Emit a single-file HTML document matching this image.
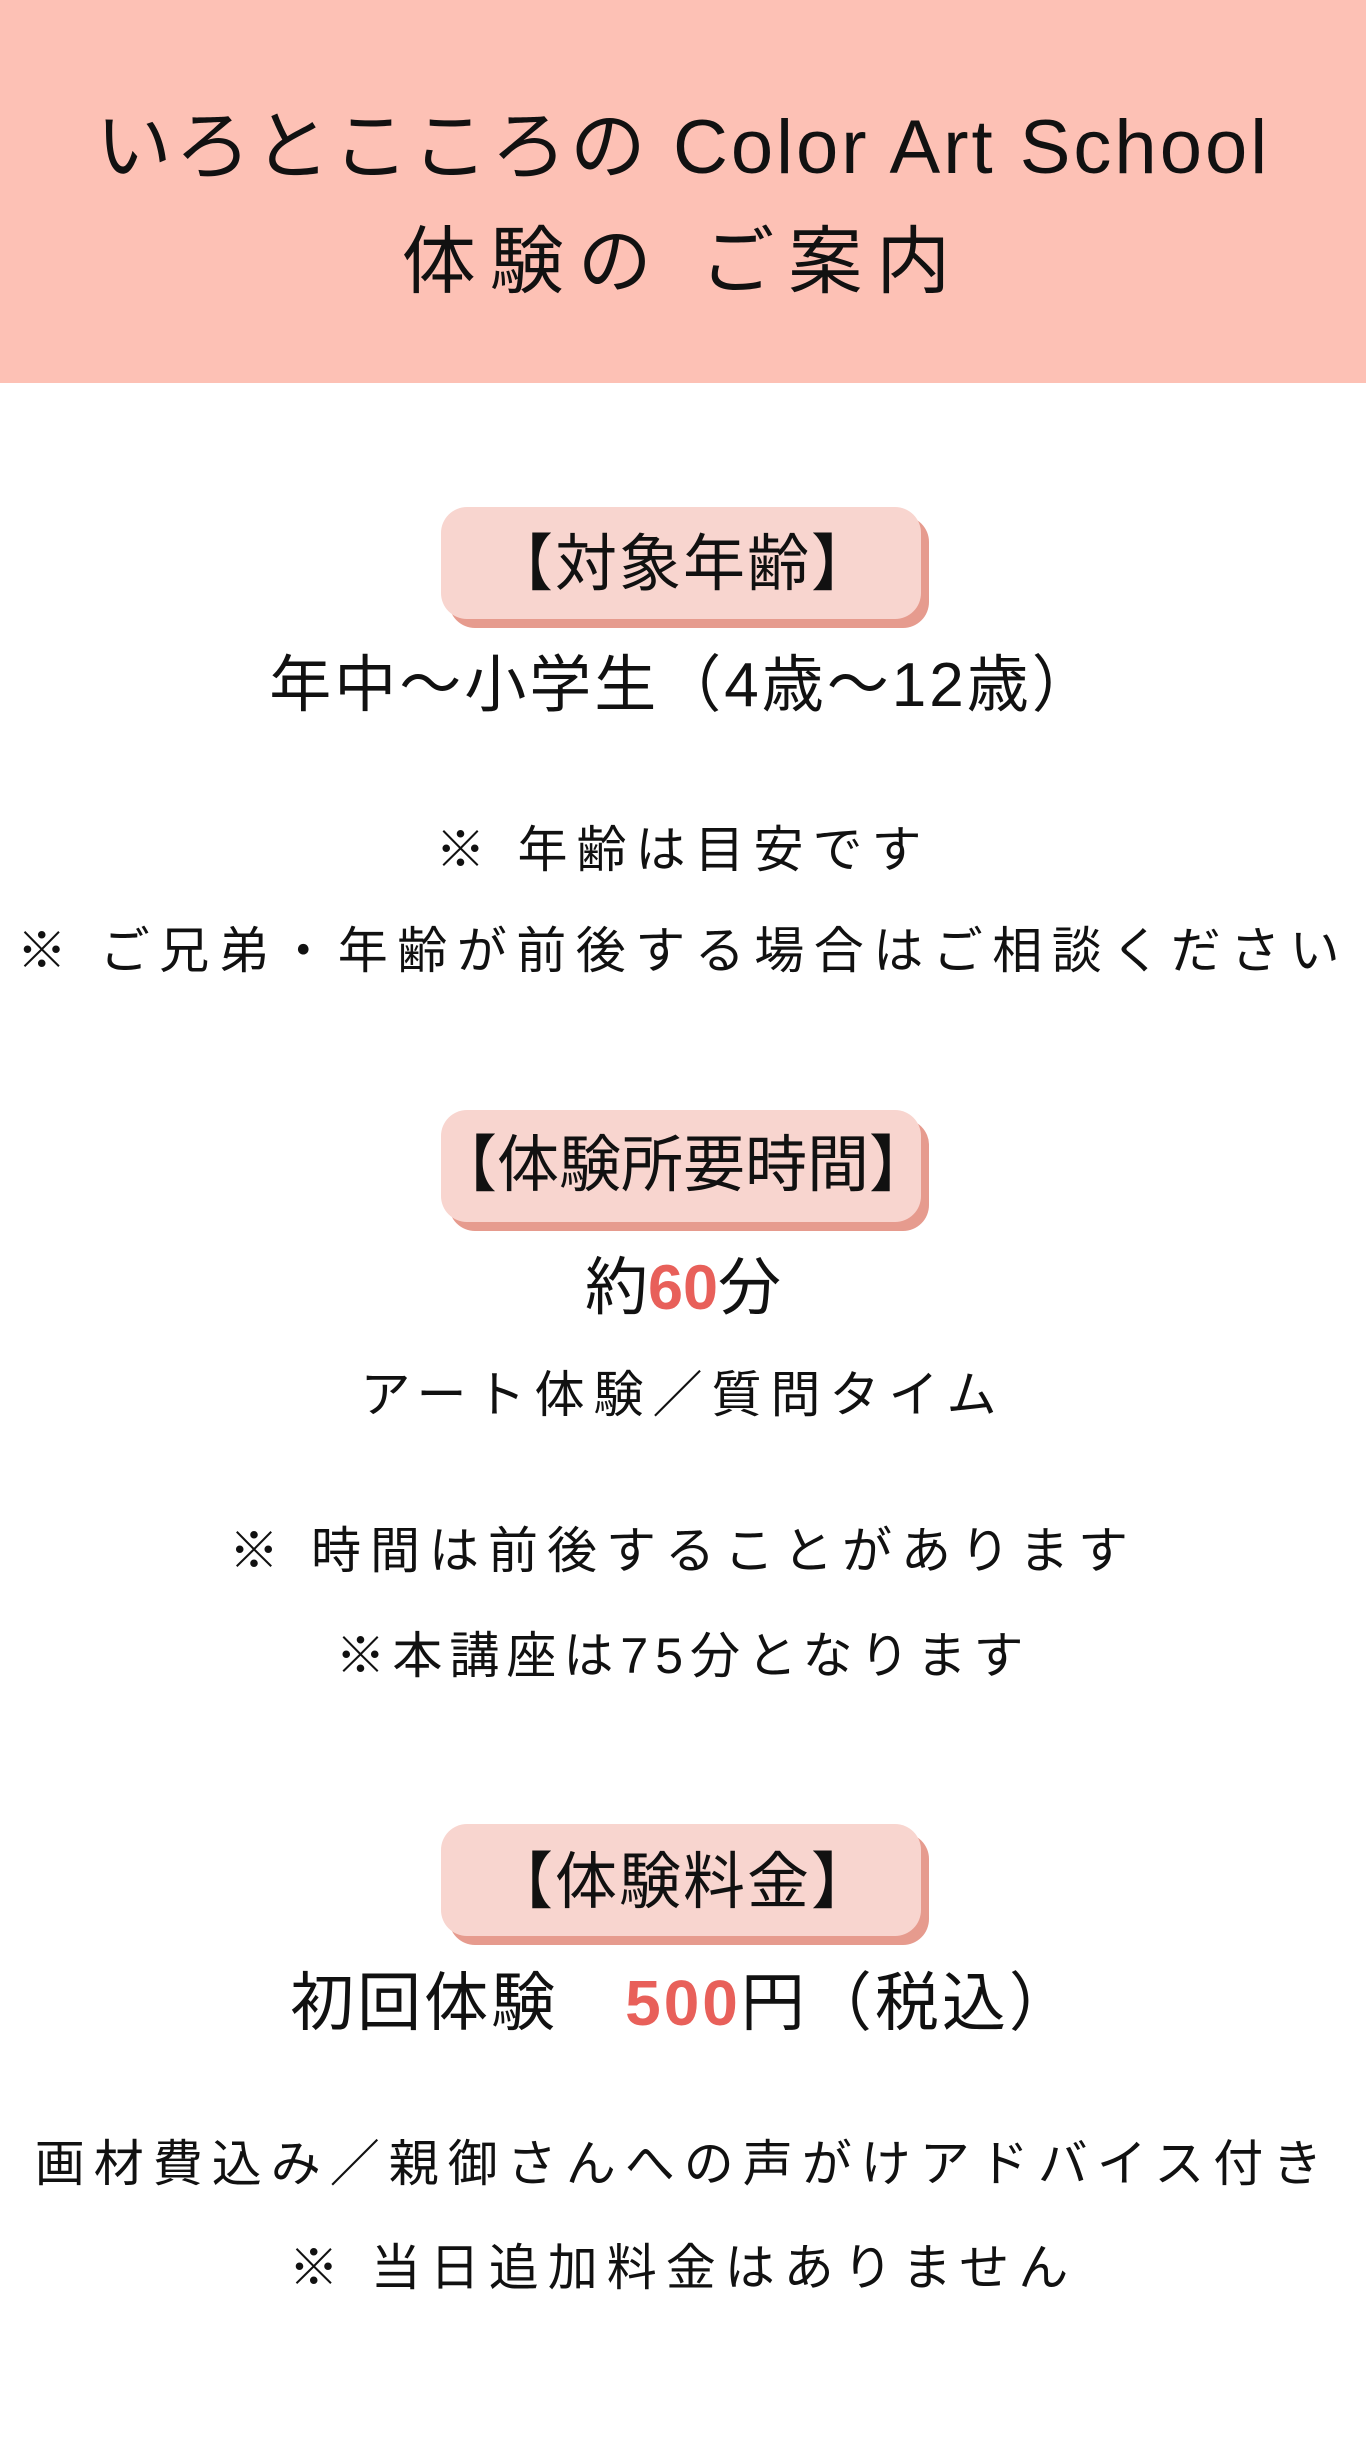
<!DOCTYPE html>
<html><head><meta charset="utf-8">
<style>
html,body{margin:0;padding:0;}
body{width:1366px;height:2446px;position:relative;background:#fff;overflow:hidden;
font-family:"Liberation Sans","Noto Sans CJK JP",sans-serif;color:#111;}
.hdr{position:absolute;left:0;top:0;width:1366px;height:383px;background:#fdc1b5;}
.t{position:absolute;left:0;width:1366px;text-align:center;white-space:nowrap;}
.pill{position:absolute;left:441px;width:480px;height:112px;background:#f8d5cf;border-radius:26px;
box-shadow:8px 9px 0 #e69b8e;}
.red{color:#e8605a;font-weight:bold;}
</style></head><body>
<div class="hdr"></div>
<div class="t" style="top:106px;font-size:76px;line-height:84px;letter-spacing:3px;">いろとこころの Color Art School</div>
<div class="t" style="top:220px;font-size:74px;line-height:84px;letter-spacing:14px;">体験の ご案内</div>

<div class="pill" style="top:507px;"></div>
<div class="t" style="top:529px;font-size:62px;line-height:72px;letter-spacing:2px;">【対象年齢】</div>
<div class="t" style="top:650px;font-size:62px;line-height:72px;letter-spacing:3px;">年中～小学生（4歳～12歳）</div>
<div class="t" style="top:818px;font-size:50px;line-height:64px;letter-spacing:9px;">※ 年齢は目安です</div>
<div class="t" style="top:919px;font-size:50px;line-height:64px;letter-spacing:9.5px;">※ ご兄弟・年齢が前後する場合はご相談ください</div>

<div class="pill" style="top:1110px;"></div>
<div class="t" style="top:1131px;font-size:62px;line-height:70px;">【体験所要時間】</div>
<div class="t" style="top:1252px;font-size:63px;line-height:72px;">約<span class="red">60</span>分</div>
<div class="t" style="top:1363px;font-size:50px;line-height:64px;letter-spacing:9px;">アート体験／質問タイム</div>
<div class="t" style="top:1519px;font-size:50px;line-height:64px;letter-spacing:9px;">※ 時間は前後することがあります</div>
<div class="t" style="top:1624px;font-size:50px;line-height:64px;letter-spacing:7px;">※本講座は75分となります</div>

<div class="pill" style="top:1824px;"></div>
<div class="t" style="top:1847px;font-size:62px;line-height:72px;letter-spacing:2px;">【体験料金】</div>
<div class="t" style="top:1967px;font-size:64px;line-height:72px;letter-spacing:3px;">初回体験　<span class="red">500</span>円（税込）</div>
<div class="t" style="top:2132px;font-size:50px;line-height:64px;letter-spacing:9px;">画材費込み／親御さんへの声がけアドバイス付き</div>
<div class="t" style="top:2236px;font-size:50px;line-height:64px;letter-spacing:9px;">※ 当日追加料金はありません</div>
</body></html>
